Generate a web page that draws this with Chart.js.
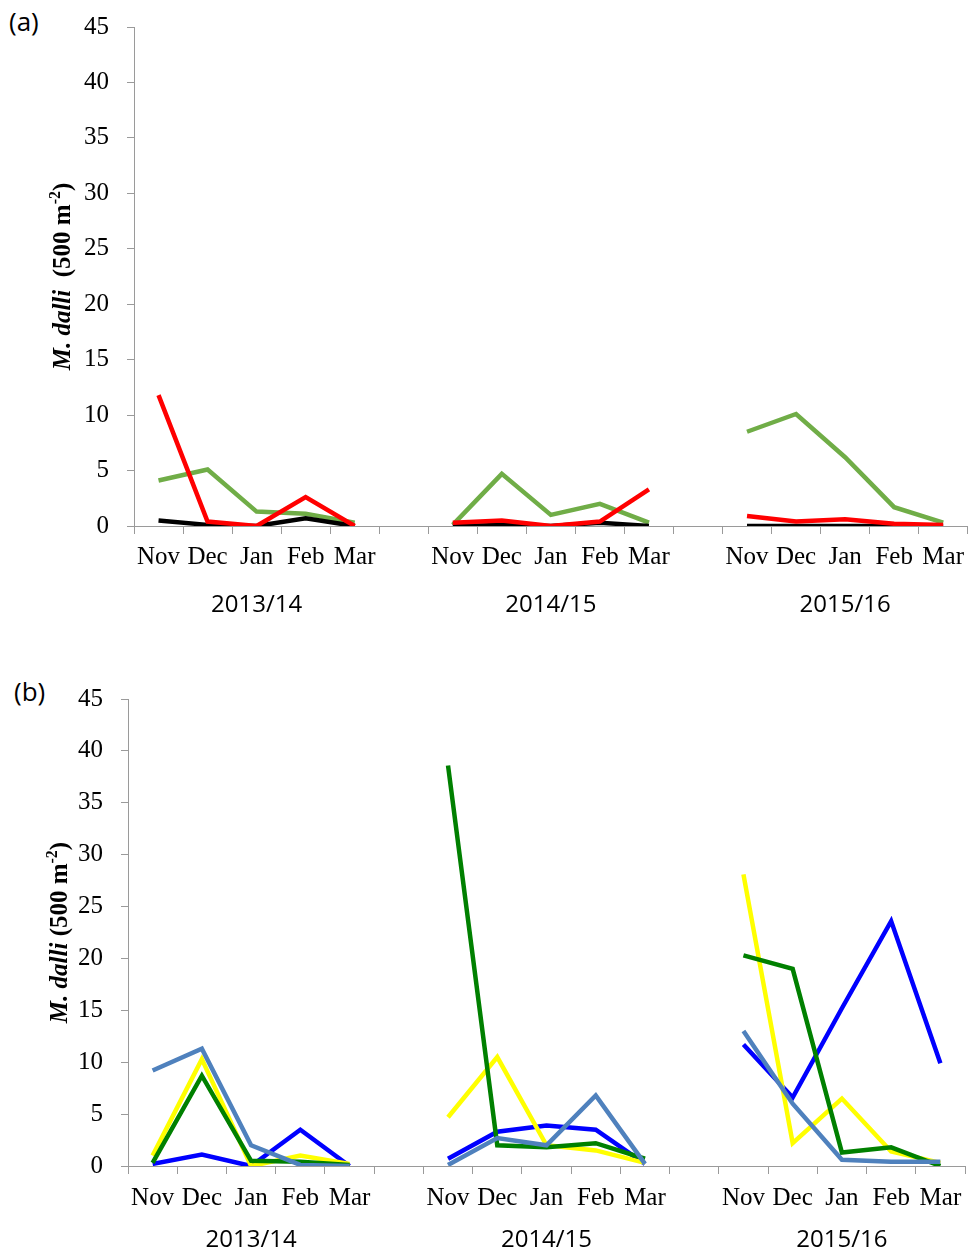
<!DOCTYPE html>
<html>
<head>
<meta charset="utf-8">
<script src="https://cdn.jsdelivr.net/npm/chart.js@4"></script>
<style>
body { margin: 0; background: #fff; width: 972px; height: 1254px; position: relative; overflow: hidden; }
canvas { position: absolute; left: 0; }
#chartA { top: 0; }
#chartB { top: 650px; }
.tag { position: absolute; font-family: "Open Sans"; font-size: 26px; color: #000; }
</style>
</head>
<body>
<div class="tag" style="left:9px;top:3px">(a)</div>
<div class="tag" style="left:14px;top:673px">(b)</div>
<canvas id="chartA" width="972" height="640"></canvas>
<canvas id="chartB" width="972" height="604"></canvas>
<script>
// months within each season, and the seasons
const months = ['Nov', 'Dec', 'Jan', 'Feb', 'Mar'];
const seasons = ['2013/14', '2014/15', '2015/16'];

// panel (a), one row per season
const aRed   = [[11.8, 0.4, 0, 2.6, 0], [0.3, 0.5, 0, 0.4, 3.3], [0.9, 0.4, 0.6, 0.2, 0.1]];
const aBlack = [[0.5, 0.1, 0, 0.7, 0], [0, 0.1, 0, 0.3, 0], [0, 0, 0, 0, 0]];
const aGreen = [[4.1, 5.1, 1.3, 1.1, 0.3], [0.1, 4.7, 1.0, 2.0, 0.3], [8.5, 10.1, 6.2, 1.7, 0.3]];

// panel (b)
const bSteel  = [[9.2, 11.3, 2.0, 0.1, 0], [0.1, 2.7, 2.0, 6.8, 0.2], [13.0, 6.0, 0.6, 0.4, 0.4]];
const bGreen  = [[0.3, 8.7, 0.5, 0.4, 0.1], [38.6, 2.0, 1.8, 2.2, 0.7], [20.3, 19.0, 1.3, 1.8, 0]];
const bYellow = [[1.0, 10.3, 0, 1.0, 0.2], [4.7, 10.5, 2.0, 1.5, 0.3], [28.1, 2.2, 6.5, 1.4, 0.3]];
const bBlue   = [[0.2, 1.1, 0, 3.5, 0], [0.7, 3.3, 3.9, 3.5, 0.2], [11.7, 6.6, 15.2, 23.6, 9.9]];

const axisColor = '#9a9a9a';

// 17 slots: 5 months, a blank, 5 months, a blank, 5 months
const monthLabels = [];
const seasonLabels = [];
seasons.forEach((s, i) => {
  months.forEach((m, j) => {
    monthLabels.push(m);
    seasonLabels.push(j === 2 ? s : '');
  });
  if (i < seasons.length - 1) {
    monthLabels.push('');
    seasonLabels.push('');
  }
});

const flat = rows => {
  let out = [];
  rows.forEach((r, i) => {
    out = out.concat(r);
    if (i < rows.length - 1) out.push(null);
  });
  return out;
};

// rotated y title with italic species name and superscript
const yTitle = {
  id: 'yTitle',
  afterDraw(chart, args, opts) {
    const ctx = chart.ctx;
    const area = chart.chartArea;
    const size = 25;
    const parts = [
      ['italic bold ' + size + 'px "Liberation Serif"', 'M. dalli', 0],
      ['bold ' + size + 'px "Liberation Serif"', opts.gap + '(500 m', 0],
      ['bold ' + Math.round(size * 0.62) + 'px "Liberation Serif"', '-2', -size * 0.33],
      ['bold ' + size + 'px "Liberation Serif"', ')', 0]
    ];
    ctx.save();
    ctx.translate(area.left - opts.offset, (area.top + area.bottom) / 2);
    ctx.rotate(-Math.PI / 2);
    ctx.fillStyle = '#000';
    ctx.textBaseline = 'middle';
    let total = 0;
    parts.forEach(p => { ctx.font = p[0]; total += ctx.measureText(p[1]).width; });
    let x = -total / 2;
    parts.forEach(p => {
      ctx.font = p[0];
      ctx.fillText(p[1], x, p[2]);
      x += ctx.measureText(p[1]).width;
    });
    ctx.restore();
  }
};

makeChart = (id, series, opt) => {
  new Chart(document.getElementById(id), {
    type: 'line',
    data: {
      labels: monthLabels,
      datasets: series.map(s => ({
        data: flat(s.values),
        borderColor: s.color,
        borderWidth: 4.5,
        pointRadius: 0,
        tension: 0,
        spanGaps: false,
        xAxisID: 'x'
      }))
    },
    options: {
      responsive: false,
      animation: false,
      layout: { padding: { top: opt.top, right: opt.right, left: 0, bottom: 0 } },
      plugins: {
        legend: { display: false },
        tooltip: { enabled: false },
        yTitle: { offset: opt.titleOffset, gap: opt.gap }
      },
      scales: {
        x: {
          type: 'category',
          offset: true,
          weight: 0,
          grid: { offset: true, drawOnChartArea: false, tickLength: 8, color: axisColor },
          border: { color: axisColor },
          ticks: {
            autoSkip: false, maxRotation: 0, padding: opt.monthPad, color: '#000',
            font: { family: '"Liberation Serif"', size: 25 }
          },
          afterFit: s => { s.height = opt.monthH; }
        },
        season: {
          type: 'category',
          labels: seasonLabels,
          position: 'bottom',
          offset: true,
          weight: 1,
          grid: { display: false, drawTicks: false },
          border: { display: false },
          ticks: {
            autoSkip: false, maxRotation: 0, padding: opt.yearPad, color: '#000',
            font: { family: '"Open Sans"', size: 24 }
          },
          afterFit: s => { s.height = opt.yearH; }
        },
        y: {
          min: 0,
          max: 45,
          grid: { drawOnChartArea: false, tickLength: 7, color: axisColor },
          border: { color: axisColor },
          ticks: {
            stepSize: 5, padding: 18, color: '#000',
            font: { family: '"Liberation Serif"', size: 25 }
          },
          afterFit: s => {
            s.width = opt.left;
            s.paddingTop = 0;
          }
        }
      }
    },
    plugins: [yTitle]
  });
};

makeChart('chartA', [
  { values: aRed, color: '#ff0000' },
  { values: aBlack, color: '#000000' },
  { values: aGreen, color: '#70ad47' }
], { top: 27, right: 0, left: 134, monthH: 55, yearH: 59, monthPad: 8, yearPad: 10, titleOffset: 70, gap: '  ' });

makeChart('chartB', [
  { values: bSteel, color: '#4f81bd' },
  { values: bGreen, color: '#008000' },
  { values: bYellow, color: '#ffff00' },
  { values: bBlue, color: '#0000ff' }
], { top: 49, right: 7, left: 128, monthH: 50, yearH: 38, monthPad: 9, yearPad: 10, titleOffset: 67, gap: ' ' });
</script>
</body>
</html>
